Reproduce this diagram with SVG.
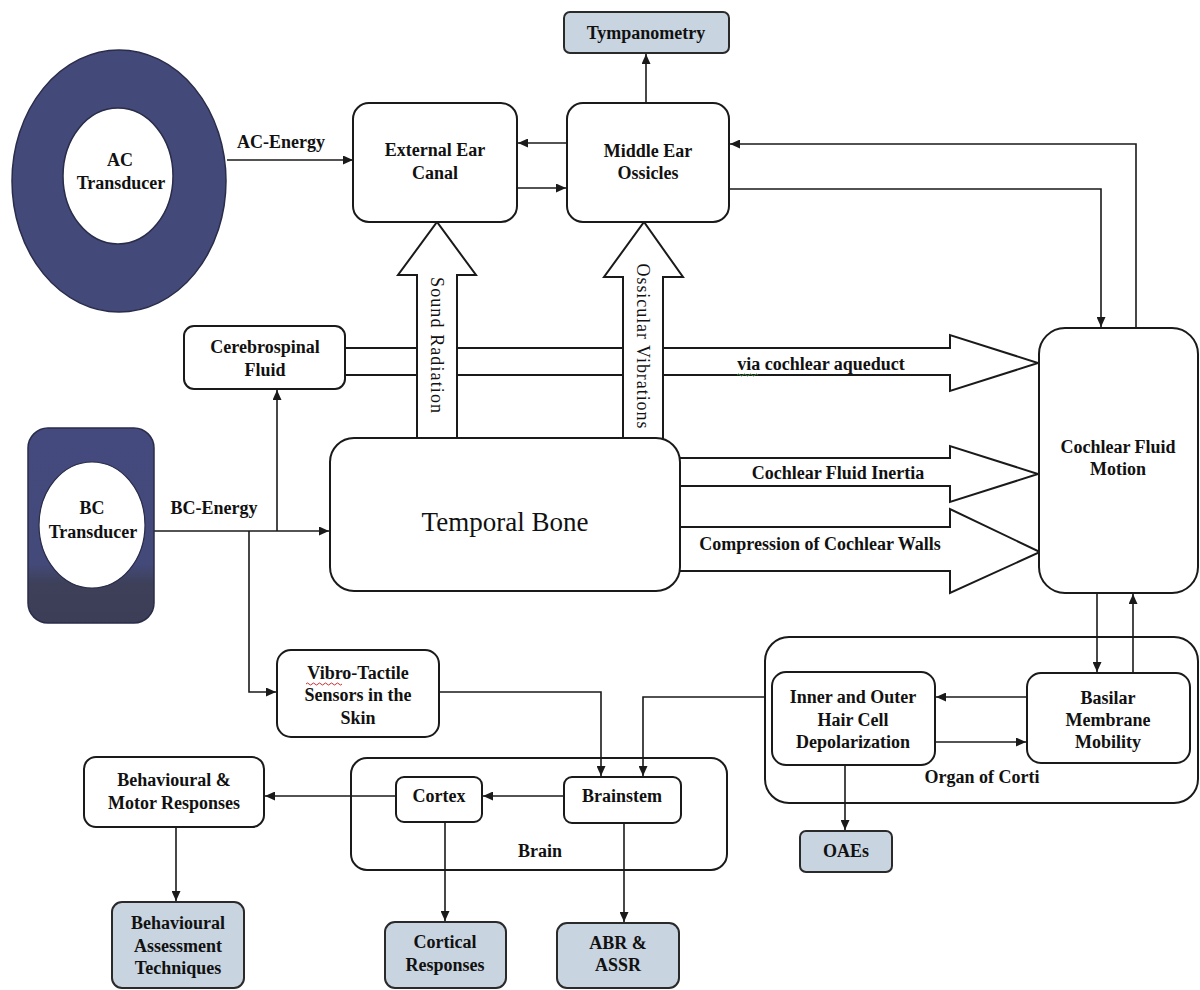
<svg xmlns="http://www.w3.org/2000/svg" width="1200" height="990" viewBox="0 0 1200 990">
<defs>
<style>
.t{font-family:"Liberation Serif","Times New Roman",serif;font-size:18px;font-weight:bold;fill:#111;text-anchor:middle}
.big{font-family:"Liberation Serif","Times New Roman",serif;font-size:27px;fill:#111;text-anchor:middle}
.rot{font-family:"Liberation Serif","Times New Roman",serif;font-size:18px;fill:#111;text-anchor:middle}
.box{fill:#fff;stroke:#1a1a1a;stroke-width:2}
.gbox{fill:#c8d4df;stroke:#2a2a2a;stroke-width:2}
.ln{fill:none;stroke:#1a1a1a;stroke-width:1.6}
.hol{fill:#fff;stroke:#1a1a1a;stroke-width:2;stroke-linejoin:miter}
</style>
<marker id="ah" markerWidth="10" markerHeight="9" refX="10" refY="4.5" orient="auto" markerUnits="userSpaceOnUse">
<path d="M0,0 L10,4.5 L0,9 z" fill="#1a1a1a"/>
</marker>
<linearGradient id="bcg" x1="0" y1="0" x2="0" y2="1">
<stop offset="0" stop-color="#444a7e"/>
<stop offset="0.7" stop-color="#434978"/>
<stop offset="0.8" stop-color="#3d4058"/>
<stop offset="1" stop-color="#3b3e56"/>
</linearGradient>
</defs>
<rect width="1200" height="990" fill="#fff"/>

<g id="organ-of-corti">
<rect class="box" x="765" y="637" width="433" height="166" rx="24"/>
<text class="t" x="982" y="783">Organ of Corti</text>
</g>

<g id="brain">
<rect class="box" x="351" y="758" width="376" height="112" rx="16"/>
<text class="t" x="540" y="857">Brain</text>
</g>

<g id="connectors">
<!-- hollow horizontal arrows -->
<path class="hol" d="M344,348 L950,348 L950,335 L1038,363 L950,391 L950,375 L344,375"/>
<path class="hol" d="M680,458 L950,458 L950,446 L1038,474 L950,502 L950,486 L680,486"/>
<path class="hol" d="M680,527 L950,527 L950,509 L1040,552 L950,593 L950,571 L680,571"/>
<text class="t" x="821" y="370">via cochlear aqueduct</text>
<path d="M737,375 q1.5,-2 3,0 t3,0 t3,0 t3,0 t3,0 t3,0 t3,0" fill="none" stroke="#3c8a3c" stroke-width="1"/>
<text class="t" x="838" y="479">Cochlear Fluid Inertia</text>
<text class="t" x="820" y="550">Compression of Cochlear Walls</text>
<!-- hollow vertical arrows -->
<path class="hol" d="M417,438 L417,275 L398,275 L437,222 L476,275 L457,275 L457,438"/>
<text class="rot" transform="translate(437,345) rotate(90)" y="6" textLength="136" lengthAdjust="spacing">Sound Radiation</text>
<path class="hol" d="M623,439 L623,277 L604,277 L644,222 L683,277 L663,277 L663,439"/>
<text class="rot" transform="translate(643,346) rotate(90)" y="6" textLength="165" lengthAdjust="spacing">Ossicular Vibrations</text>
<!-- simple connectors -->
<line class="ln" x1="227" y1="160" x2="353" y2="160" marker-end="url(#ah)"/>
<text class="t" x="281" y="148">AC-Energy</text>
<line class="ln" x1="567" y1="143" x2="518" y2="143" marker-end="url(#ah)"/>
<line class="ln" x1="517" y1="188" x2="566" y2="188" marker-end="url(#ah)"/>
<line class="ln" x1="646" y1="103" x2="646" y2="54" marker-end="url(#ah)"/>
<polyline class="ln" points="729,189 1101,189 1101,327" marker-end="url(#ah)"/>
<polyline class="ln" points="1136,328 1136,144 730,144" marker-end="url(#ah)"/>
<line class="ln" x1="154" y1="531" x2="329" y2="531" marker-end="url(#ah)"/>
<text class="t" x="214" y="514">BC-Energy</text>
<line class="ln" x1="277" y1="531" x2="277" y2="390" marker-end="url(#ah)"/>
<polyline class="ln" points="249,531 249,692 276,692" marker-end="url(#ah)"/>
<line class="ln" x1="1097" y1="593" x2="1097" y2="672" marker-end="url(#ah)"/>
<line class="ln" x1="1133" y1="673" x2="1133" y2="594" marker-end="url(#ah)"/>
<line class="ln" x1="1027" y1="697" x2="936" y2="697" marker-end="url(#ah)"/>
<line class="ln" x1="935" y1="742" x2="1026" y2="742" marker-end="url(#ah)"/>
<line class="ln" x1="845" y1="765" x2="845" y2="830" marker-end="url(#ah)"/>
<polyline class="ln" points="765,697 643,697 643,776" marker-end="url(#ah)"/>
<polyline class="ln" points="439,692 601,692 601,776" marker-end="url(#ah)"/>
<line class="ln" x1="564" y1="796" x2="483" y2="796" marker-end="url(#ah)"/>
<line class="ln" x1="396" y1="796" x2="265" y2="796" marker-end="url(#ah)"/>
<line class="ln" x1="176" y1="827" x2="176" y2="901" marker-end="url(#ah)"/>
<line class="ln" x1="445" y1="822" x2="445" y2="921" marker-end="url(#ah)"/>
<line class="ln" x1="624" y1="823" x2="624" y2="922" marker-end="url(#ah)"/>
</g>

<g id="ac-transducer">
<ellipse cx="119" cy="181" rx="107" ry="131" fill="#434979" stroke="#2a2d4a" stroke-width="1.5"/>
<ellipse cx="118" cy="176" rx="55" ry="68" fill="#fff" stroke="#2a2d4a" stroke-width="1.5"/>
<text class="t" x="120" y="166">AC</text>
<text class="t" x="121" y="189">Transducer</text>
</g>

<g id="external-ear">
<rect class="box" x="353" y="103" width="164" height="119" rx="16"/>
<text class="t" x="435" y="156">External Ear</text>
<text class="t" x="435" y="179">Canal</text>
</g>

<g id="middle-ear">
<rect class="box" x="567" y="103" width="162" height="119" rx="16"/>
<text class="t" x="648" y="157">Middle Ear</text>
<text class="t" x="648" y="179">Ossicles</text>
</g>

<g id="tympanometry">
<rect class="gbox" x="564" y="12" width="165" height="41" rx="6"/>
<text class="t" x="646" y="39">Tympanometry</text>
</g>

<g id="csf">
<rect class="box" x="184" y="326" width="161" height="63" rx="10"/>
<text class="t" x="265" y="353">Cerebrospinal</text>
<text class="t" x="265" y="376">Fluid</text>
</g>

<g id="bc-transducer">
<rect x="28" y="428" width="126" height="195" rx="20" fill="url(#bcg)" stroke="#2a2d4a" stroke-width="1.5"/>
<ellipse cx="92" cy="525" rx="53" ry="63" fill="#fff" stroke="#2a2d4a" stroke-width="1.2"/>
<text class="t" x="92" y="514">BC</text>
<text class="t" x="93" y="538">Transducer</text>
</g>

<g id="temporal-bone">
<rect class="box" x="330" y="438" width="350" height="153" rx="24"/>
<text class="big" x="505" y="531">Temporal Bone</text>
</g>

<g id="cochlear-fluid">
<rect class="box" x="1039" y="328" width="159" height="265" rx="26"/>
<text class="t" x="1118" y="453">Cochlear Fluid</text>
<text class="t" x="1118" y="475">Motion</text>
</g>

<g id="hair-cell">
<rect class="box" x="772" y="672" width="163" height="93" rx="14"/>
<text class="t" x="853" y="703">Inner and Outer</text>
<text class="t" x="853" y="726">Hair Cell</text>
<text class="t" x="853" y="748">Depolarization</text>
</g>

<g id="basilar">
<rect class="box" x="1027" y="673" width="163" height="90" rx="14"/>
<text class="t" x="1108" y="704">Basilar</text>
<text class="t" x="1108" y="726">Membrane</text>
<text class="t" x="1108" y="748">Mobility</text>
</g>

<g id="oaes">
<rect class="gbox" x="800" y="831" width="92" height="41" rx="6"/>
<text class="t" x="846" y="857">OAEs</text>
</g>

<g id="vibro-tactile">
<rect class="box" x="277" y="650" width="162" height="87" rx="14"/>
<text class="t" x="358" y="679">Vibro-Tactile</text>
<path d="M306,684 q1.5,-2 3,0 t3,0 t3,0 t3,0 t3,0 t3,0 t3,0 t3,0 t3,0 t3,0 t3,0 t3,0" fill="none" stroke="#c83232" stroke-width="1"/>
<text class="t" x="358" y="701">Sensors in the</text>
<text class="t" x="358" y="724">Skin</text>
</g>

<g id="cortex">
<rect class="box" x="396" y="777" width="86" height="45" rx="8"/>
<text class="t" x="439" y="802">Cortex</text>
</g>

<g id="brainstem">
<rect class="box" x="564" y="777" width="117" height="46" rx="8"/>
<text class="t" x="622" y="802">Brainstem</text>
</g>

<g id="behavioural-motor">
<rect class="box" x="84" y="757" width="180" height="70" rx="12"/>
<text class="t" x="174" y="786">Behavioural &amp;</text>
<text class="t" x="174" y="809">Motor Responses</text>
</g>

<g id="behavioural-assessment">
<rect class="gbox" x="112" y="902" width="132" height="86" rx="10"/>
<text class="t" x="178" y="929">Behavioural</text>
<text class="t" x="178" y="952">Assessment</text>
<text class="t" x="178" y="974">Techniques</text>
</g>

<g id="cortical-responses">
<rect class="gbox" x="385" y="922" width="121" height="66" rx="10"/>
<text class="t" x="445" y="948">Cortical</text>
<text class="t" x="445" y="971">Responses</text>
</g>

<g id="abr-assr">
<rect class="gbox" x="557" y="923" width="122" height="65" rx="10"/>
<text class="t" x="618" y="949">ABR &amp;</text>
<text class="t" x="618" y="971">ASSR</text>
</g>
</svg>
